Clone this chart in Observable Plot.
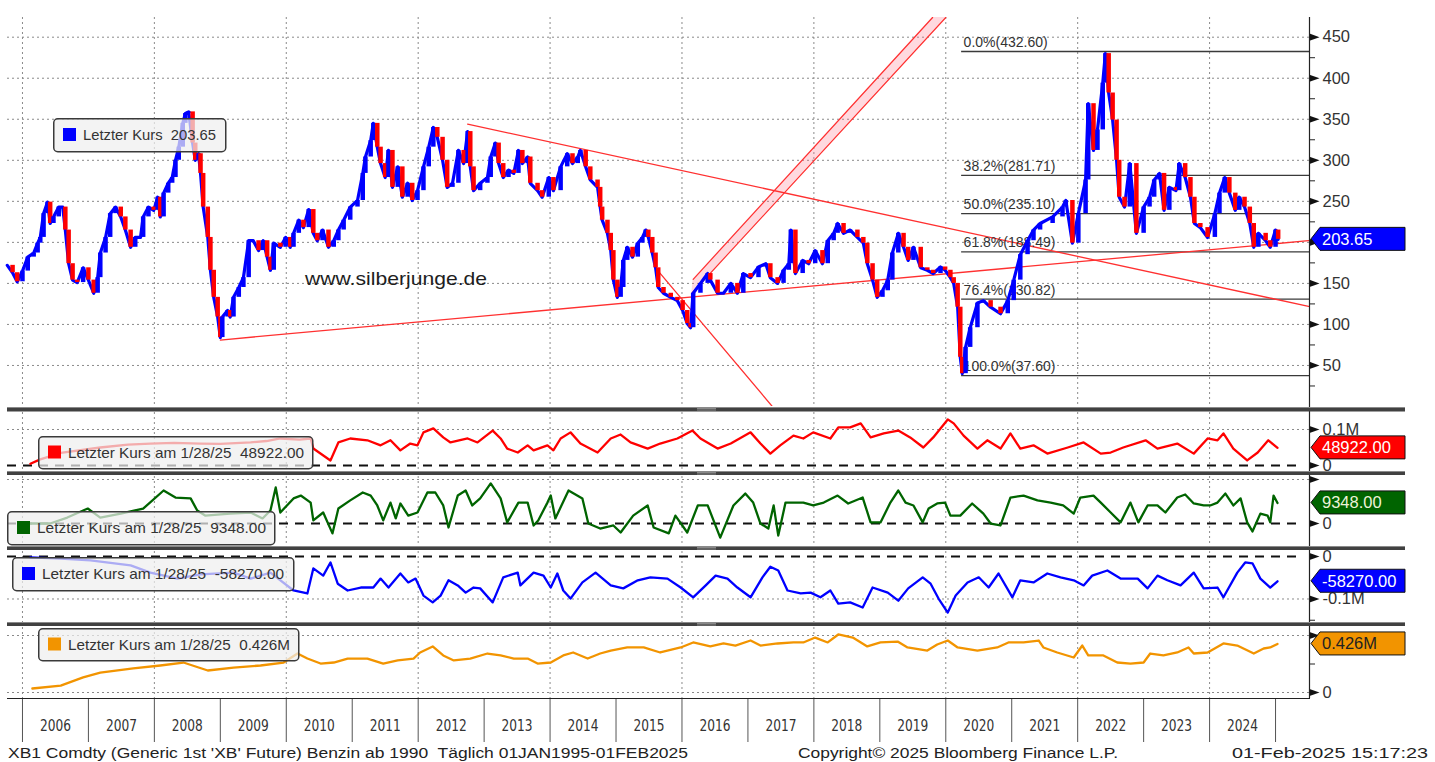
<!DOCTYPE html>
<html><head><meta charset="utf-8">
<script src="https://cdn.jsdelivr.net/npm/d3@7"></script>
<script src="https://cdn.jsdelivr.net/npm/@observablehq/plot@0.6"></script>
<style>
html,body{margin:0;padding:0;background:#fff;}
#wrap{position:relative;width:1435px;height:762px;overflow:hidden;background:#fff;}
</style></head><body><div id="wrap"></div>
<script>
// ---------- DATA ----------
// main price (Generic 1st XB future), [decimal year, US cents]
const price = [
[2005.77,172],[2005.85,163],[2005.92,152],[2006.00,165],[2006.08,182],[2006.17,187],[2006.23,199],[2006.27,206],[2006.32,235],[2006.38,249],[2006.42,223],[2006.47,231],[2006.55,243],[2006.61,243],[2006.65,215],[2006.70,174],[2006.76,154],[2006.83,151],[2006.92,169],[2007.00,154],[2007.08,138],[2007.14,157],[2007.18,187],[2007.26,206],[2007.33,235],[2007.41,243],[2007.49,231],[2007.56,215],[2007.64,194],[2007.71,206],[2007.79,206],[2007.83,231],[2007.91,243],[2007.99,239],[2008.05,255],[2008.09,231],[2008.14,260],[2008.21,272],[2008.27,279],[2008.32,300],[2008.37,316],[2008.43,345],[2008.47,357],[2008.52,359],[2008.58,321],[2008.62,300],[2008.67,308],[2008.70,284],[2008.74,243],[2008.81,206],[2008.85,166],[2008.90,133],[2008.96,109],[2009.00,84],[2009.03,109],[2009.11,117],[2009.15,109],[2009.20,133],[2009.28,145],[2009.35,157],[2009.43,202],[2009.50,202],[2009.58,190],[2009.65,202],[2009.71,182],[2009.76,166],[2009.81,199],[2009.91,194],[2009.99,206],[2010.06,194],[2010.11,211],[2010.19,227],[2010.26,218],[2010.34,240],[2010.41,211],[2010.47,202],[2010.55,215],[2010.64,194],[2010.72,202],[2010.79,215],[2010.87,227],[2010.97,243],[2011.08,251],[2011.16,284],[2011.20,304],[2011.28,324],[2011.32,345],[2011.38,316],[2011.43,296],[2011.50,279],[2011.55,312],[2011.61,267],[2011.69,292],[2011.76,255],[2011.84,272],[2011.91,251],[2011.99,263],[2012.08,292],[2012.16,316],[2012.23,340],[2012.29,328],[2012.37,300],[2012.44,267],[2012.52,272],[2012.61,312],[2012.69,296],[2012.75,335],[2012.79,292],[2012.84,263],[2012.94,272],[2013.05,279],[2013.10,304],[2013.17,321],[2013.22,296],[2013.29,279],[2013.37,288],[2013.45,284],[2013.52,312],[2013.58,296],[2013.66,304],[2013.70,272],[2013.81,263],[2013.88,255],[2013.98,279],[2014.05,263],[2014.16,292],[2014.26,308],[2014.34,296],[2014.42,304],[2014.46,312],[2014.54,292],[2014.61,276],[2014.72,267],[2014.76,243],[2014.79,227],[2014.87,211],[2014.92,190],[2014.96,154],[2015.02,133],[2015.07,145],[2015.11,178],[2015.17,194],[2015.25,182],[2015.33,199],[2015.40,206],[2015.45,215],[2015.49,206],[2015.55,187],[2015.60,169],[2015.64,145],[2015.72,138],[2015.83,133],[2015.93,129],[2016.01,117],[2016.08,101],[2016.13,96],[2016.17,138],[2016.28,150],[2016.39,162],[2016.43,154],[2016.54,138],[2016.63,138],[2016.74,150],[2016.84,138],[2016.93,162],[2017.04,157],[2017.16,170],[2017.27,174],[2017.34,157],[2017.45,150],[2017.54,166],[2017.62,174],[2017.65,215],[2017.72,162],[2017.83,178],[2017.92,174],[2018.02,190],[2018.13,174],[2018.21,202],[2018.30,211],[2018.36,223],[2018.45,211],[2018.55,215],[2018.66,206],[2018.75,199],[2018.81,174],[2018.89,154],[2018.96,133],[2019.04,141],[2019.12,154],[2019.19,187],[2019.28,211],[2019.36,194],[2019.43,178],[2019.51,194],[2019.62,169],[2019.72,166],[2019.81,162],[2019.92,170],[2019.99,166],[2020.07,157],[2020.12,150],[2020.18,121],[2020.22,60],[2020.25,40],[2020.30,72],[2020.37,96],[2020.48,126],[2020.57,129],[2020.68,121],[2020.83,113],[2020.94,129],[2021.03,154],[2021.13,185],[2021.24,202],[2021.33,215],[2021.43,223],[2021.62,231],[2021.77,243],[2021.82,251],[2021.92,199],[2022.01,235],[2022.12,276],[2022.16,369],[2022.24,312],[2022.30,337],[2022.38,394],[2022.42,430],[2022.47,382],[2022.53,349],[2022.59,300],[2022.63,255],[2022.71,243],[2022.79,296],[2022.89,211],[2023.00,243],[2023.09,255],[2023.16,276],[2023.24,284],[2023.31,239],[2023.39,267],[2023.49,263],[2023.54,296],[2023.63,279],[2023.71,255],[2023.77,223],[2023.86,218],[2023.97,206],[2024.08,235],[2024.15,260],[2024.23,279],[2024.30,260],[2024.39,239],[2024.45,255],[2024.53,243],[2024.61,223],[2024.67,194],[2024.74,211],[2024.85,202],[2024.92,194],[2025.00,215],[2025.04,203.65]
];

// sub panels, values in thousands
const redSeries = [
[2006.12,5],[2006.27,17],[2006.58,35],[2007.18,50],[2007.60,58],[2007.94,61],[2008.30,63],[2008.70,61],[2009.00,60],[2009.46,64],[2009.70,68],[2009.91,75],[2010.20,72],[2010.37,75],[2010.41,47],[2010.67,14],[2010.79,64],[2010.97,75],[2011.23,70],[2011.43,56],[2011.58,70],[2011.73,42],[2011.88,61],[2011.99,56],[2012.08,92],[2012.23,103],[2012.38,78],[2012.49,64],[2012.75,75],[2012.90,64],[2013.13,97],[2013.25,75],[2013.35,47],[2013.51,36],[2013.66,56],[2013.75,42],[2013.96,56],[2014.05,42],[2014.16,75],[2014.31,92],[2014.46,61],[2014.72,36],[2014.92,75],[2015.07,86],[2015.22,64],[2015.48,47],[2015.67,61],[2015.93,75],[2016.16,97],[2016.28,75],[2016.54,47],[2016.74,61],[2017.04,92],[2017.19,61],[2017.34,33],[2017.49,56],[2017.69,83],[2017.84,75],[2017.99,92],[2018.25,75],[2018.37,106],[2018.55,106],[2018.71,117],[2018.86,78],[2019.06,89],[2019.28,97],[2019.46,78],[2019.66,50],[2019.81,78],[2020.03,128],[2020.12,117],[2020.27,83],[2020.48,47],[2020.63,70],[2020.83,47],[2020.98,89],[2021.13,47],[2021.33,56],[2021.54,33],[2021.85,50],[2022.09,64],[2022.35,33],[2022.50,36],[2022.69,50],[2023.03,70],[2023.21,47],[2023.51,61],[2023.76,33],[2023.97,75],[2024.12,70],[2024.21,89],[2024.36,47],[2024.57,14],[2024.73,36],[2024.89,70],[2025.03,48.922]
];
const greenSeries = [
[2006.12,0],[2006.42,0],[2006.68,2.7],[2006.99,6.8],[2007.18,2.7],[2007.49,4.5],[2007.83,6.8],[2008.14,15],[2008.32,11.8],[2008.55,11.4],[2008.65,5.9],[2008.77,3.6],[2009.15,4.5],[2009.46,5],[2009.64,2.3],[2009.76,5.9],[2009.84,16.4],[2009.91,5],[2010.11,11.4],[2010.22,12.7],[2010.37,9.5],[2010.41,1.4],[2010.56,5],[2010.70,-4.5],[2010.79,6.8],[2010.97,10.5],[2011.16,14.1],[2011.28,12.7],[2011.38,8.2],[2011.47,1.4],[2011.58,9.5],[2011.66,2.3],[2011.73,9.1],[2011.85,3.6],[2011.99,5],[2012.14,14.1],[2012.26,14.1],[2012.38,8.2],[2012.46,-1.8],[2012.60,12.7],[2012.72,15],[2012.82,8.2],[2012.94,11.4],[2013.10,18.2],[2013.25,11.4],[2013.35,0.5],[2013.52,9.5],[2013.66,9.5],[2013.75,-0.9],[2013.82,1.4],[2013.96,9.5],[2014.01,12.7],[2014.08,2.3],[2014.28,15],[2014.49,11.4],[2014.58,0],[2014.76,-2.3],[2014.96,-0.9],[2015.07,-4.1],[2015.26,3.6],[2015.48,8.2],[2015.57,-1.8],[2015.80,-4.5],[2015.90,3.6],[2016.08,-4.1],[2016.24,8.2],[2016.39,8.2],[2016.58,-6.4],[2016.78,8.2],[2016.96,13.6],[2017.08,9.5],[2017.19,0],[2017.31,-2.3],[2017.39,8.2],[2017.46,-5.5],[2017.57,9.5],[2017.75,9.5],[2017.84,9.5],[2017.99,8.2],[2018.15,9.5],[2018.36,12.7],[2018.52,9.1],[2018.74,11.8],[2018.86,0.5],[2019.01,0.5],[2019.16,9.5],[2019.28,15],[2019.39,9.5],[2019.51,8.2],[2019.65,0.5],[2019.74,6.8],[2019.87,9.1],[2019.99,9.5],[2020.07,3.6],[2020.22,3.6],[2020.40,9.1],[2020.57,4.5],[2020.68,0],[2020.83,-0.9],[2020.98,11.8],[2021.18,12.7],[2021.39,10.5],[2021.59,9.5],[2021.78,8.2],[2021.94,4.5],[2022.04,11.8],[2022.24,12.7],[2022.35,9.5],[2022.50,5],[2022.65,0.5],[2022.80,9.5],[2022.92,0.5],[2023.06,8.2],[2023.21,8.2],[2023.33,5],[2023.51,11.8],[2023.63,13.2],[2023.76,9.1],[2023.91,8.2],[2024.01,8.2],[2024.12,9.5],[2024.24,13.6],[2024.36,8.2],[2024.47,11.4],[2024.57,0.5],[2024.65,-3.6],[2024.77,4.5],[2024.88,3.6],[2024.92,0.5],[2024.97,12.7],[2025.03,9.348]
];
const blueSeries = [
[2006.12,-2],[2006.58,-5],[2007.03,-9],[2007.64,-21],[2007.94,-38],[2008.35,-52],[2008.70,-42],[2009.20,-38],[2009.46,-52],[2009.76,-38],[2010.11,-80],[2010.32,-87],[2010.41,-28],[2010.56,-45],[2010.67,-14],[2010.78,-64],[2010.93,-80],[2011.13,-73],[2011.32,-73],[2011.43,-52],[2011.55,-73],[2011.73,-40],[2011.85,-61],[2011.96,-52],[2012.08,-92],[2012.22,-108],[2012.34,-92],[2012.46,-56],[2012.60,-68],[2012.72,-85],[2012.84,-73],[2012.94,-75],[2013.13,-108],[2013.29,-49],[2013.51,-38],[2013.55,-68],[2013.75,-38],[2013.90,-45],[2014.01,-73],[2014.11,-40],[2014.20,-80],[2014.31,-99],[2014.49,-61],[2014.69,-38],[2014.92,-68],[2015.11,-75],[2015.33,-56],[2015.52,-49],[2015.78,-52],[2015.98,-73],[2016.17,-96],[2016.36,-68],[2016.51,-45],[2016.69,-52],[2016.84,-73],[2017.04,-96],[2017.22,-49],[2017.34,-24],[2017.46,-33],[2017.60,-80],[2017.80,-87],[2017.95,-85],[2018.10,-96],[2018.25,-80],[2018.37,-111],[2018.55,-108],[2018.74,-120],[2018.89,-73],[2019.12,-85],[2019.28,-104],[2019.43,-75],[2019.65,-49],[2019.77,-64],[2019.89,-99],[2020.03,-132],[2020.15,-92],[2020.33,-61],[2020.50,-49],[2020.65,-73],[2020.80,-40],[2021.01,-96],[2021.13,-56],[2021.33,-61],[2021.54,-40],[2021.74,-49],[2021.94,-56],[2022.09,-68],[2022.22,-45],[2022.45,-33],[2022.65,-52],[2022.91,-52],[2023.06,-75],[2023.21,-45],[2023.36,-56],[2023.56,-68],[2023.76,-38],[2023.91,-75],[2024.12,-73],[2024.21,-96],[2024.42,-38],[2024.54,-14],[2024.65,-16],[2024.77,-52],[2024.92,-73],[2025.03,-58.27]
];
const orangeSeries = [
[2006.15,35],[2006.58,61],[2006.92,132],[2007.18,175],[2007.68,211],[2008.09,237],[2008.44,263],[2008.81,193],[2009.20,219],[2009.61,237],[2009.96,263],[2010.17,342],[2010.32,298],[2010.52,254],[2010.72,263],[2010.93,298],[2011.23,298],[2011.47,254],[2011.69,281],[2011.93,298],[2012.03,351],[2012.22,404],[2012.38,325],[2012.54,281],[2012.79,298],[2013.05,342],[2013.25,325],[2013.45,298],[2013.66,298],[2013.81,254],[2014.01,263],[2014.20,325],[2014.35,351],[2014.57,298],[2014.76,342],[2014.92,368],[2015.17,395],[2015.42,395],[2015.67,351],[2015.98,395],[2016.17,439],[2016.43,404],[2016.63,430],[2016.81,412],[2017.04,456],[2017.19,412],[2017.45,430],[2017.69,439],[2017.84,439],[2018.02,482],[2018.21,439],[2018.37,509],[2018.59,482],[2018.81,404],[2019.01,439],[2019.27,447],[2019.42,395],[2019.72,368],[2019.87,421],[2020.03,456],[2020.18,395],[2020.48,368],[2020.78,395],[2020.95,439],[2021.18,439],[2021.41,456],[2021.48,395],[2021.69,351],[2021.94,307],[2022.07,412],[2022.16,325],[2022.39,325],[2022.60,263],[2022.80,254],[2023.00,263],[2023.10,342],[2023.30,325],[2023.51,351],[2023.68,395],[2023.76,342],[2023.97,351],[2024.21,430],[2024.42,412],[2024.67,342],[2024.82,386],[2024.92,395],[2025.03,426]
];

// drawn objects: trend lines, channel and Fibonacci levels ([decimal year, price])
const supportLine = [[2009.00, 81], [2025.50, 202]];
const resistanceLine = [[2012.75, 344], [2025.50, 122]];
const steepLine = [[2015.64, 165], [2017.37, 0]];
const channelLower = [[2016.15, 138], [2020.00, 474]];
const channelUpper = [[2016.17, 155], [2019.80, 474]];
const fibStart = 2020.24;
const fibLevels = [432.60, 281.71, 235.10, 188.49, 130.82, 37.60];
const fibPct = ["0.0%", "38.2%", "50.0%", "61.8%", "76.4%", "100.0%"];

// axes (200 is hidden behind the last-price tag in the original)
const mainTicks = [50, 100, 150, 200, 250, 300, 350, 400, 450];
const mainTickLabels = [50, 100, 150, 250, 300, 350, 400, 450];
const mainMinor = [25, 75, 125, 175, 225, 275, 325, 375, 425];
const gridYears = [2006, 2008, 2010, 2012, 2014, 2016, 2018, 2020, 2022, 2024];
const yearTicks = [2006,2007,2008,2009,2010,2011,2012,2013,2014,2015,2016,2017,2018,2019,2020,2021,2022,2023,2024,2025];
const yearLabels = [2006,2007,2008,2009,2010,2011,2012,2013,2014,2015,2016,2017,2018,2019,2020,2021,2022,2023,2024];
const lastDate = "1/28/25";

// ---------- LAYOUT ----------
const FONT = '"Liberation Sans", Arial, sans-serif';
const NARROW = '"Liberation Sans Narrow", "DejaVu Sans Condensed", "Liberation Sans", Arial, sans-serif';
const W = 1435, ML = 7, MR = 126;
const XD = [2005.773, 2025.515];
const BLUE = "#0000ff", RED = "#ff0000", GREEN = "#006400", ORANGE = "#f29400", TREND = "#ff3030";
const wrap = document.getElementById("wrap");
function place(el, top) { el.style.position = "absolute"; el.style.left = "0px"; el.style.top = top + "px"; wrap.appendChild(el); return el; }
const arrow = {draw(ctx, size) { const s = Math.sqrt(size / Math.PI); ctx.moveTo(-s, -s * 0.72); ctx.lineTo(s, 0); ctx.lineTo(-s, s * 0.72); ctx.closePath(); }};
const grid = {stroke: "#8a8a8a", strokeDasharray: "2,3", strokeWidth: 1};
const baseStyle = {fontFamily: FONT, fontSize: "16px", background: "transparent", overflow: "visible", color: "#222"};
const px = d => d[0], py = d => d[1];

// ---------- MAIN PANEL ----------
const candles = price.map(([t, v], i) => ({t, v, prev: i ? price[i - 1][1] : v}));
const channelArea = [
  {x1: channelLower[0][0], y1: channelLower[0][1], x2: channelUpper[0][0], y2: channelUpper[0][1]},
  {x1: channelLower[1][0], y1: channelLower[1][1], x2: channelUpper[1][0], y2: channelUpper[1][1]}
];
const mainTop = 0;
const main = Plot.plot({
  width: W, height: 407, marginTop: 17, marginBottom: 1, marginLeft: ML, marginRight: MR,
  x: {domain: XD, axis: null}, y: {domain: [0, 474], axis: null},
  style: baseStyle,
  marks: [
    Plot.ruleY(mainTicks, grid),
    Plot.ruleX(gridYears, grid),
    Plot.ruleY(fibLevels, {x1: fibStart, x2: XD[1], stroke: "#3a3a3a", strokeWidth: 1.3}),
    Plot.area(channelArea, {x1: "x1", y1: "y1", x2: "x2", y2: "y2", fill: "rgba(255,110,130,0.26)", clip: true}),
    Plot.line(channelLower, {x: px, y: py, stroke: TREND, strokeWidth: 1.2, clip: true}),
    Plot.line(channelUpper, {x: px, y: py, stroke: TREND, strokeWidth: 1.2, clip: true}),
    Plot.line(supportLine, {x: px, y: py, stroke: TREND, strokeWidth: 1.3, clip: true}),
    Plot.line(resistanceLine, {x: px, y: py, stroke: TREND, strokeWidth: 1.3, clip: true}),
    Plot.line(steepLine, {x: px, y: py, stroke: TREND, strokeWidth: 1.3, clip: true}),
    Plot.text(fibLevels, {x: fibStart, y: d => d, text: (d, i) => fibPct[i] + "(" + d.toFixed(2) + ")", textAnchor: "start", dx: 2, dy: -9, fontSize: 14, fill: "#333"}),
    Plot.line(candles, {x: "t", y: "v", stroke: BLUE, strokeWidth: 3.2}),
    Plot.ruleX(candles, {x: "t", y1: "prev", y2: "v", stroke: d => d.v >= d.prev ? BLUE : RED, strokeWidth: 4.5}),
    Plot.axisY(mainMinor, {anchor: "right", tickSize: 5, tickFormat: () => "", label: null, stroke: "#222"}),
    Plot.axisY(mainTickLabels, {anchor: "right", tickSize: 0, tickPadding: 13, fontSize: 16.5, fill: "#333", label: null}),
    Plot.dot(mainTicks, {x: XD[1], y: d => d, symbol: arrow, r: 5, fill: "#111", dx: 5})
  ]
});
place(main, mainTop);

// ---------- SUB PANELS ----------
function subPanel(c) {
  const marks = [
    Plot.ruleX(gridYears, grid),
    Plot.ruleY(c.grid, grid),
    c.dashedZero
      ? Plot.ruleY([0], {x1: XD[0], x2: 2025.38, stroke: "#111", strokeWidth: 2, strokeDasharray: "9,7"})
      : Plot.ruleY([0], grid),
    Plot.line(c.series, {x: px, y: py, stroke: c.color, strokeWidth: 2.3})
  ];
  if (c.minor) marks.push(Plot.axisY(c.minor, {anchor: "right", tickSize: 5, tickFormat: () => "", label: null, stroke: "#222"}));
  marks.push(Plot.axisY(c.ticks, {anchor: "right", tickSize: 0, tickPadding: 13, tickFormat: d => c.labels[c.ticks.indexOf(d)], fontSize: 16.5, fill: "#333", label: null}));
  marks.push(Plot.dot(c.arrows, {x: XD[1], y: d => d, symbol: arrow, r: 5, fill: "#111", dx: 5}));
  const svg = Plot.plot({
    width: W, height: c.height, marginTop: 1, marginBottom: 0, marginLeft: ML, marginRight: MR,
    x: {domain: XD, axis: null}, y: {domain: c.domain, axis: null}, style: baseStyle, marks
  });
  place(svg, c.top);
  return svg;
}
const panels = [
  {key: "red", top: 411, height: 60, domain: [-16.7, 147.2], series: redSeries, color: RED, grid: [100], dashedZero: true,
   ticks: [100, 0], labels: ["0.1M", "0"], arrows: [100, 0], tag: {fill: RED, text: "#fff"}},
  {key: "green", top: 475, height: 71, domain: [-10.45, 21.36], series: greenSeries, color: GREEN, grid: [20], dashedZero: true,
   ticks: [0], labels: ["0"], arrows: [20, 0], tag: {fill: GREEN, text: "#eef3d8"}},
  {key: "blue", top: 550, height: 72, domain: [-155.3, 11.76], series: blueSeries, color: BLUE, grid: [-100], dashedZero: true,
   ticks: [0, -100], labels: ["0", "-0.1M"], arrows: [0, -100], minor: [-150], tag: {fill: BLUE, text: "#fff"}},
  {key: "orange", top: 626, height: 72, domain: [-52.6, 570.2], series: orangeSeries, color: ORANGE, grid: [500], dashedZero: false,
   ticks: [0], labels: ["0"], arrows: [500, 0], minor: [250], tag: {fill: ORANGE, text: "#222"}}
];
panels.forEach(p => { p.svg = subPanel(p); });

// ---------- X AXIS (years) ----------
const axis = Plot.plot({
  width: W, height: 44, marginTop: 0, marginBottom: 0, marginLeft: ML, marginRight: MR,
  x: {domain: XD, axis: null}, style: baseStyle,
  marks: [
    Plot.ruleX(yearTicks, {stroke: "#555", strokeWidth: 1}),
    Plot.text(yearLabels, {x: d => d + 0.5, text: d => String(d), frameAnchor: "middle", dy: 5, fontSize: 16, fill: "#333", fontFamily: NARROW})
  ]
});
place(axis, 698);
d3.select(axis).selectAll("text").attr("textLength", 31).attr("lengthAdjust", "spacingAndGlyphs");

// ---------- OVERLAY (frames, legends, tags, notes) ----------
const ov = d3.create("svg").attr("width", W).attr("height", 762)
  .style("position", "absolute").style("left", "0px").style("top", "0px").style("pointer-events", "none")
  .style("font-family", FONT);

// panel frames
ov.append("line").attr("x1", 1309.5).attr("x2", 1309.5).attr("y1", 17).attr("y2", 698).attr("stroke", "#222").attr("stroke-width", 1.2);
ov.append("line").attr("x1", 7).attr("x2", 1310).attr("y1", 698.5).attr("y2", 698.5).attr("stroke", "#222").attr("stroke-width", 1.2);
// separators
[[407, 4.5], [471, 4], [546, 4], [622, 4]].forEach(([y, h]) => {
  ov.append("rect").attr("x", 7).attr("y", y).attr("width", 1398).attr("height", h).attr("fill", "#414141");
  ov.append("line").attr("x1", 7).attr("x2", 1405).attr("y1", y + 0.5).attr("y2", y + 0.5).attr("stroke", "#8a8a8a").attr("stroke-width", 1);
  [1.5, 3].forEach(o => ov.append("line").attr("x1", 697).attr("x2", 716).attr("y1", y + o).attr("y2", y + o).attr("stroke", "#9a9a9a").attr("stroke-width", 0.8));
});

// watermark
ov.append("text").attr("x", 305).attr("y", 285).attr("font-size", 19).attr("fill", "#1e1e1e")
  .attr("textLength", 182).attr("lengthAdjust", "spacingAndGlyphs").text("www.silberjunge.de");

// legends
const lastOf = s => s[s.length - 1][1];
const fmtK = v => (v * 1000).toFixed(2);
const legends = [
  {x: 53, y: 118, w: 172, h: 33, color: BLUE, text: "Letzter Kurs  " + lastOf(price).toFixed(2), tw: 133},
  {x: 38, y: 436, w: 274, h: 32, color: RED, text: "Letzter Kurs am " + lastDate + "  " + fmtK(lastOf(redSeries)), tw: 236},
  {x: 7, y: 511, w: 267, h: 33, color: GREEN, text: "Letzter Kurs am " + lastDate + "  " + fmtK(lastOf(greenSeries)), tw: 229},
  {x: 12, y: 557, w: 281, h: 33, color: BLUE, text: "Letzter Kurs am " + lastDate + "  " + fmtK(lastOf(blueSeries)), tw: 242},
  {x: 38, y: 628, w: 260, h: 32, color: ORANGE, text: "Letzter Kurs am " + lastDate + "  " + (lastOf(orangeSeries) / 1000).toFixed(3) + "M", tw: 222}
];
legends.forEach(l => {
  const cy = l.y + l.h / 2;
  ov.append("rect").attr("x", l.x + 0.75).attr("y", l.y + 0.75).attr("width", l.w).attr("height", l.h).attr("rx", 4)
    .attr("fill", "rgba(238,238,238,0.72)").attr("stroke", "#3a3a3a").attr("stroke-width", 1.5);
  ov.append("rect").attr("x", l.x + 10).attr("y", cy - 6.5).attr("width", 13).attr("height", 13).attr("fill", l.color);
  ov.append("text").attr("x", l.x + 30).attr("y", cy + 5.5).attr("font-size", 14.5).attr("fill", "#333")
    .attr("textLength", l.tw).attr("lengthAdjust", "spacingAndGlyphs").attr("xml:space", "preserve").style("white-space", "pre").text(l.text);
});

// value tags at the right axis
function tag(cy, fill, color, label) {
  const x0 = 1311, x1 = 1320, x2 = 1405, h = 11.5;
  ov.append("path").attr("d", `M${x0},${cy}L${x1},${cy - h}L${x2},${cy - h}L${x2},${cy + h}L${x1},${cy + h}Z`)
    .attr("fill", fill).attr("stroke", "#111").attr("stroke-width", 1);
  ov.append("text").attr("x", 1322).attr("y", cy + 6).attr("font-size", 16.5).attr("fill", color).text(label);
}
tag(mainTop + main.scale("y").apply(lastOf(price)), BLUE, "#fff", lastOf(price).toFixed(2));
panels.forEach(p => {
  const v = lastOf(p.series);
  const label = p.key === "orange" ? (v / 1000).toFixed(3) + "M" : fmtK(v);
  tag(p.top + p.svg.scale("y").apply(v), p.tag.fill, p.tag.text, label);
});

// footer
const foot = [
  {x: 8, w: 680, t: "XB1 Comdty (Generic 1st 'XB' Future) Benzin ab 1990  Täglich 01JAN1995-01FEB2025"},
  {x: 798, w: 320, t: "Copyright© 2025 Bloomberg Finance L.P."},
  {x: 1232, w: 196, t: "01-Feb-2025 15:17:23"}
];
foot.forEach(f => ov.append("text").attr("x", f.x).attr("y", 758).attr("font-size", 15.5).attr("fill", "#222")
  .attr("textLength", f.w).attr("lengthAdjust", "spacingAndGlyphs").attr("xml:space", "preserve").style("white-space", "pre").text(f.t));

wrap.appendChild(ov.node());
</script></body></html>
